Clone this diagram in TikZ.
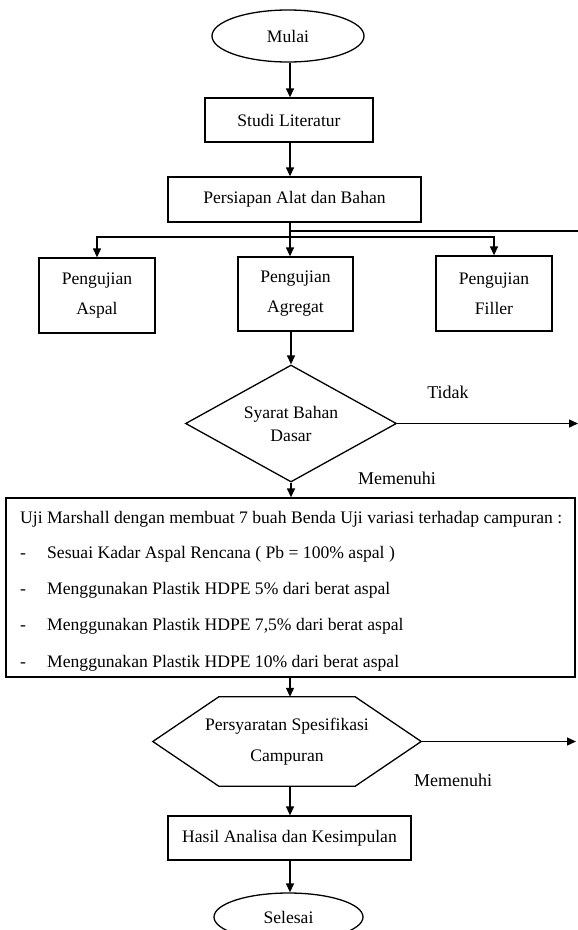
\documentclass[tikz,border=0pt]{standalone}
\usepackage{fontspec}
\setmainfont{Liberation Serif}
\usetikzlibrary{arrows.meta,shapes.geometric}
\begin{document}
\begin{tikzpicture}[x=1pt,y=-1pt,
  txt/.style={font=\fontsize{17.6}{30}\selectfont},
  flow/.style={draw=black, line width=1.3pt},
  arr/.style={flow,-{Triangle[length=9pt,width=8pt]}},
  termbox/.style={ellipse, draw, line width=1.3pt, inner sep=0pt, txt},
  procbox/.style={rectangle, draw, line width=1.3pt, inner sep=0pt, align=center, txt},
  plain/.style={inner sep=0pt, txt, anchor=base west},
  lbl/.style={inner sep=0pt, font=\fontsize{18}{22}\selectfont}]

\useasboundingbox (0,0) rectangle (578,930);
\coordinate (spine) at (290,0);

% start and preparation
\node[termbox, minimum width=152pt, minimum height=52pt] (mulai) at (288,36) {Mulai};
\node[procbox, minimum width=168pt, minimum height=44pt] (studi) at (289,120) {Studi Literatur};
\node[procbox, minimum width=253pt, minimum height=45pt] (pers) at (294.5,199.5) {Persiapan Alat dan Bahan};

% material tests
\node[procbox, minimum width=116pt, minimum height=75pt] (aspal) at (97,295.5) {Pengujian\\Aspal};
\node[procbox, minimum width=115pt, minimum height=74pt] (agr) at (295.5,294) {Pengujian\\Agregat};
\node[procbox, minimum width=116pt, minimum height=75pt] (filler) at (494,293.5) {Pengujian\\Filler};

% base material decision
\node[diamond, draw, line width=1.3pt, inner sep=0pt, aspect=1.8,
      minimum width=211pt, minimum height=117pt, align=center,
      font=\fontsize{17.6}{23}\selectfont] (syarat) at (291,423.5) {Syarat Bahan\\Dasar};

% Marshall test box
\node[rectangle, draw, line width=1.3pt, minimum width=569pt, minimum height=179pt, inner sep=0pt] (uji) at (290.5,587.5) {};
\node[plain] (ujihead) at (20,523) {Uji Marshall dengan membuat 7 buah Benda Uji variasi terhadap campuran :};
\node[plain] (d1) at (20,558) {-};
\node[plain] (b1) at (47,558) {Sesuai Kadar Aspal Rencana ( Pb = 100\% aspal )};
\node[plain] (d2) at (20,594.5) {-};
\node[plain] (b2) at (47,594.5) {Menggunakan Plastik HDPE 5\% dari berat aspal};
\node[plain] (d3) at (20,630.5) {-};
\node[plain] (b3) at (47,630.5) {Menggunakan Plastik HDPE 7,5\% dari berat aspal};
\node[plain] (d4) at (20,667.5) {-};
\node[plain] (b4) at (47,667.5) {Menggunakan Plastik HDPE 10\% dari berat aspal};

% specification check (hexagon)
\node[rectangle, inner sep=0pt, minimum width=268pt, minimum height=89pt, align=center,
      font=\fontsize{17.6}{31}\selectfont] (spec) at (287,741.5) {Persyaratan Spesifikasi\\Campuran};
\draw[flow, line join=miter] (spec.west) -- ([xshift=66pt]spec.north west) -- ([xshift=-66pt]spec.north east)
  -- (spec.east) -- ([xshift=-66pt]spec.south east) -- ([xshift=66pt]spec.south west) -- cycle;

% results and end
\node[procbox, minimum width=243pt, minimum height=44pt] (hasil) at (289.5,838) {Hasil Analisa dan Kesimpulan};
\node[termbox, minimum width=149pt, minimum height=48pt] (selesai) at (288.5,917) {Selesai};

% connectors
\draw[arr] (mulai.south -| spine) -- (studi.north -| spine);
\draw[arr] (studi.south -| spine) -- (pers.north -| spine);
\draw[arr] (pers.south -| spine) -- (agr.north -| spine);
\coordinate (br1) at (290,231);
\coordinate (out1) at (578,231);
\draw[flow] (br1) -- (out1);
\coordinate (br2) at (290,237);
\draw[arr] (br2) -| (aspal.north);
\draw[arr] (br2) -| (filler.north);
\draw[arr] (agr.south -| syarat.north) -- (syarat.north);
\coordinate (out2) at (578,423.5);
\draw[arr] (syarat.east) -- (out2);
\draw[arr] (syarat.south) -- (uji.north -| syarat.south);
\draw[arr] (uji.south -| spine) -- (spec.north -| spine);
\coordinate (out3) at (576,741.5);
\draw[arr] (spec.east) -- (out3);
\draw[arr] (spec.south -| spine) -- (hasil.north -| spine);
\draw[arr] (hasil.south -| spine) -- (selesai.north -| spine);

% branch labels
\node[lbl] (tidak) at (448,392) {Tidak};
\node[lbl] (memenuhi1) at (397,478) {Memenuhi};
\node[lbl] (memenuhi2) at (453,780) {Memenuhi};
\end{tikzpicture}
\end{document}
